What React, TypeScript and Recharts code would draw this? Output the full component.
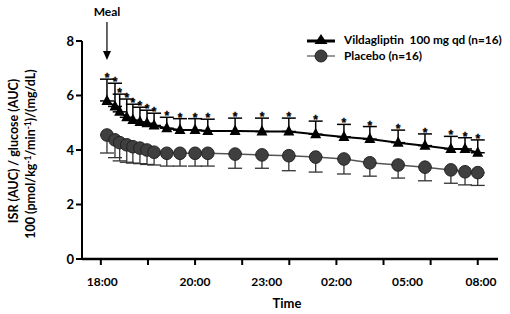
import React from 'react';
import { ComposedChart, Line, Scatter, XAxis, YAxis, ErrorBar, Legend, ReferenceLine } from 'recharts';

// x positions in axis units (tick spacing = 1 unit)
const xPos = [0.13, 0.3, 0.4, 0.55, 0.68, 0.83, 0.98, 1.13, 1.4, 1.68, 2.0, 2.27, 2.85, 3.42, 3.99, 4.56, 5.16, 5.71, 6.31, 6.88, 7.43, 7.73, 8.0];
const vildMean = [5.8, 5.6, 5.4, 5.2, 5.1, 5.03, 4.98, 4.9, 4.8, 4.73, 4.73, 4.7, 4.7, 4.68, 4.68, 4.58, 4.48, 4.4, 4.27, 4.16, 4.04, 4.04, 3.9];
const vildUpper = [6.6, 6.45, 6.05, 5.87, 5.68, 5.57, 5.46, 5.35, 5.2, 5.15, 5.15, 5.13, 5.17, 5.17, 5.17, 5.06, 4.94, 4.86, 4.73, 4.59, 4.5, 4.45, 4.37];
const placMean = [4.55, 4.37, 4.27, 4.19, 4.12, 4.07, 4.0, 3.92, 3.88, 3.88, 3.88, 3.88, 3.85, 3.82, 3.79, 3.74, 3.67, 3.53, 3.45, 3.37, 3.27, 3.2, 3.17];
const placLower = [3.89, 3.72, 3.6, 3.55, 3.52, 3.5, 3.47, 3.45, 3.41, 3.41, 3.41, 3.41, 3.33, 3.33, 3.24, 3.19, 3.12, 3.04, 2.97, 2.87, 2.78, 2.72, 2.7];

const tickMarks = [0, 1, 2, 3, 4, 5, 6, 7, 8];
const labelTicks = [0.03, 2.0, 3.52, 5.0, 6.51, 8.07];
const tickLabels = ['18:00', '20:00', '23:00', '02:00', '05:00', '08:00'];
const yTicks = [0, 2, 4, 6, 8];

const data = xPos.map((x, i) => ({
  x,
  vild: vildMean[i],
  vErr: [0, +(vildUpper[i] - vildMean[i]).toFixed(3)],
  star: vildUpper[i],
  plac: placMean[i],
  pErr: [+(placMean[i] - placLower[i]).toFixed(3), 0],
}));

const FONT = 'Lato, "Open Sans", sans-serif';
const allXTicks = Array.from(new Set([...tickMarks, ...labelTicks])).sort((a, b) => a - b);

const XTick = (props: any) => {
  const { x, y, payload } = props;
  const v = payload.value;
  const li = labelTicks.indexOf(v);
  const isMark = tickMarks.indexOf(v) >= 0;
  return (
    <g>
      {isMark && <line x1={x} x2={x} y1={y - 8} y2={y - 2} stroke="#000" strokeWidth={2} />}
      {li >= 0 && (
        <text x={x} y={y + 19} textAnchor="middle" fontFamily={FONT} fontWeight={700} fontSize={12} fill="#000">
          {tickLabels[li]}
        </text>
      )}
    </g>
  );
};

const Triangle = (props: any) => {
  const { cx, cy } = props;
  if (cx == null || cy == null) return null;
  return <polygon points={`${cx},${cy - 6.5} ${cx - 5.5},${cy + 4} ${cx + 5.5},${cy + 4}`} fill="#000" />;
};

const Circle = (props: any) => {
  const { cx, cy } = props;
  if (cx == null || cy == null) return null;
  return <circle cx={cx} cy={cy} r={6.3} fill="#3f3f3f" stroke="#222" strokeWidth={1} />;
};

const Star = (props: any) => {
  const { cx, cy } = props;
  if (cx == null || cy == null) return null;
  return (
    <text x={cx} y={cy + 3} textAnchor="middle" fontFamily="Liberation Sans" fontWeight={700} fontSize={12} fill="#000" stroke="#000" strokeWidth={0.3}>
      *
    </text>
  );
};

const YLabel = (props: any) => {
  const vb = props.viewBox || {};
  const cy = (vb.y ?? 41) + (vb.height ?? 218) / 2 + 1;
  return (
    <g fontFamily={FONT} fontWeight={700} fontSize={12.5} fill="#000">
      <text x={0} y={0} transform={`translate(18, ${cy}) rotate(-90)`} textAnchor="middle">
        ISR (AUC) / glucose (AUC)
      </text>
      <text x={0} y={0} transform={`translate(35, ${cy + 3}) rotate(-90)`} textAnchor="middle">
        100 (pmol/kg<tspan dy={-4} fontSize={8.5}>-1</tspan><tspan dy={4}>/min</tspan><tspan dy={-4} fontSize={8.5}>-1</tspan><tspan dy={4}>)/(mg/dL)</tspan>
      </text>
    </g>
  );
};

const XLabel = (props: any) => {
  const vb = props.viewBox || {};
  return (
    <text x={287} y={(vb.y ?? 259) + 49} textAnchor="middle" fontFamily={FONT} fontWeight={700} fontSize={13} fill="#000">
      Time
    </text>
  );
};

const MealArrow = (props: any) => {
  const { x1, y1, x2, y2 } = props;
  if (x1 == null) return null;
  return (
    <g>
      <text x={x1} y={y1 - 6} textAnchor="middle" fontFamily={FONT} fontWeight={700} fontSize={12} fill="#000">
        Meal
      </text>
      <line x1={x1} y1={y1} x2={x2} y2={y2 - 6} stroke="#000" strokeWidth={1.2} />
      <polygon points={`${x2 - 4},${y2 - 9} ${x2 + 4},${y2 - 9} ${x2},${y2}`} fill="#000" />
    </g>
  );
};

const LegendContent = () => (
  <div style={{ fontFamily: FONT, fontWeight: 700, fontSize: 11.8, color: '#000', lineHeight: '16px' }}>
    <div style={{ display: 'flex', alignItems: 'center' }}>
      <svg width={30} height={16}>
        <line x1={1} x2={29} y1={9} y2={9} stroke="#000" strokeWidth={3} />
        <polygon points="15,2 8.5,12 21.5,12" fill="#000" />
      </svg>
      <span style={{ marginLeft: 8 }}>Vildagliptin&nbsp;&nbsp;100 mg qd (n=16)</span>
    </div>
    <div style={{ display: 'flex', alignItems: 'center' }}>
      <svg width={30} height={16}>
        <line x1={1} x2={29} y1={8} y2={8} stroke="#555" strokeWidth={1.2} />
        <circle cx={15} cy={8} r={6} fill="#3f3f3f" stroke="#222" strokeWidth={1} />
      </svg>
      <span style={{ marginLeft: 8 }}>Placebo (n=16)</span>
    </div>
  </div>
);

export default function App() {
  return (
    <div style={{ position: 'absolute', left: 0, top: 0, background: '#fff' }}>
      <ComposedChart width={510} height={314} data={data} margin={{ top: 41, right: 12, bottom: 0, left: 0 }}>
        <XAxis
          type="number"
          dataKey="x"
          domain={[-0.4, 8.43]}
          ticks={allXTicks}
          interval={0}
          tick={<XTick />}
          tickLine={false}
          axisLine={{ stroke: '#000', strokeWidth: 2.5 }}
          height={55}
          label={<XLabel />}
        />
        <YAxis
          type="number"
          domain={[0, 8]}
          ticks={yTicks}
          width={82}
          axisLine={{ stroke: '#000', strokeWidth: 2 }}
          tickLine={{ stroke: '#000', strokeWidth: 2 }}
          tickSize={6}
          tick={{ fontFamily: FONT, fontWeight: 700, fontSize: 13, fill: '#000' }}
          label={<YLabel />}
        />
        <Legend
          layout="vertical"
          align="center"
          verticalAlign="middle"
          content={<LegendContent />}
          wrapperStyle={{ position: 'absolute', left: 306, top: 32, width: 210 }}
        />
        <ReferenceLine
          segment={[{ x: 0.13, y: 8.7 }, { x: 0.13, y: 7.3 }]}
          ifOverflow="visible"
          shape={<MealArrow />}
        />
        <Line
          dataKey="plac"
          stroke="#555"
          strokeWidth={1.5}
          dot={<Circle />}
          isAnimationActive={false}
          legendType="none"
        >
          <ErrorBar dataKey="pErr" direction="y" width={7} stroke="#333" strokeWidth={1.3} />
        </Line>
        <Line
          dataKey="vild"
          stroke="#000"
          strokeWidth={2}
          dot={<Triangle />}
          isAnimationActive={false}
          legendType="none"
        >
          <ErrorBar dataKey="vErr" direction="y" width={7} stroke="#000" strokeWidth={1.5} />
        </Line>
        <Scatter dataKey="star" shape={<Star />} isAnimationActive={false} legendType="none" />
      </ComposedChart>
    </div>
  );
}
